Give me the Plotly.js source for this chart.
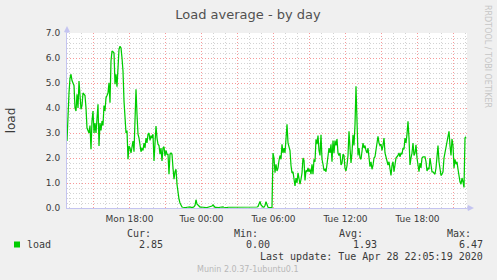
<!DOCTYPE html>
<html>
<head>
<meta charset="utf-8">
<script src="https://cdn.plot.ly/plotly-3.0.1.min.js"></script>
<style>
html,body{margin:0;padding:0;background:#f0f0f0;}
#chart{width:497px;height:280px;}
</style>
</head>
<body>
<div id="chart"></div>
<script>
// ---- data ----
const titleText = 'Load average - by day';
const yAxisTitle = 'load';
const seriesName = 'load';
const startTime = '2020-04-27 12:47:30';   // first 5-minute sample
const stepMinutes = 5;
const rangeStart = '2020-04-27 12:47:30';
const rangeEnd = '2020-04-28 22:07:30';

const loadValues = [
  2.68, 3.9, 4.6, 5.2, 5.35, 5.1, 5.0, 4.9, 4.0, 3.88,
  4.55, 4.0, 5.08, 4.5, 3.95, 4.1, 4.6, 4.55, 4.5, 4.0,
  3.2, 3.1, 3.0, 3.3, 2.35, 3.48, 3.88, 3.0, 3.4, 3.0,
  3.6, 4.15, 2.48, 3.4, 3.1, 3.48, 3.3, 4.1, 3.88, 4.41,
  4.5, 4.6, 5.01, 4.21, 5.88, 6.28, 6.25, 6.2, 4.95, 5.35,
  4.85, 5.88, 6.35, 6.47, 6.4, 6.0, 5.48, 4.28, 3.35, 3.0,
  3.1, 1.95, 2.48, 2.4, 2.2, 2.4, 2.68, 2.25, 3.75, 4.75,
  3.75, 2.95, 2.8, 2.55, 2.25, 2.4, 2.3, 2.6, 2.4, 2.8,
  2.6, 2.95, 3.0, 2.7, 2.9, 2.8, 2.95, 1.88, 2.8, 3.28,
  2.8, 2.55, 2.5, 2.15, 2.4, 1.88, 2.4, 2.45, 2.08, 2.3,
  2.15, 2.15, 1.35, 2.15, 2.2, 2.15, 1.6, 1.15, 1.45, 1.55,
  0.95, 0.6, 0.35, 0.2, 0.08, 0.04, 0.03, 0.02, 0.02, 0.02,
  0.03, 0.04, 0.03, 0.04, 0.03, 0.02, 0.03, 0.05, 0.1, 0.33,
  0.15, 0.12, 0.05, 0.04, 0.04, 0.03, 0.03, 0.03, 0.02, 0.02,
  0.02, 0.03, 0.04, 0.05, 0.06, 0.08, 0.12, 0.05, 0.03, 0.03,
  0.02, 0.02, 0.02, 0.03, 0.04, 0.06, 0.04, 0.03, 0.02, 0.02,
  0.02, 0.03, 0.03, 0.03, 0.02, 0.02, 0.02, 0.02, 0.03, 0.03,
  0.03, 0.03, 0.02, 0.02, 0.02, 0.02, 0.03, 0.03, 0.03, 0.03,
  0.02, 0.02, 0.02, 0.02, 0.03, 0.03, 0.03, 0.03, 0.03, 0.04,
  0.04, 0.06, 0.15, 0.26, 0.12, 0.05, 0.04, 0.04, 0.1, 0.25,
  0.08, 0.03, 0.02, 0.02, 0.02, 0.02, 2.2, 2.0, 1.41, 1.75,
  1.48, 1.6, 1.9, 2.1, 1.95, 2.55, 2.2, 2.4, 2.2, 2.8,
  3.35, 2.6, 2.45, 2.3, 1.7, 1.4, 1.45, 1.08, 0.88, 1.2,
  1.0, 1.41, 1.1, 0.95, 1.15, 1.4, 2.0, 1.9, 1.1, 1.5,
  1.45, 1.6, 1.45, 1.55, 1.35, 1.75, 1.35, 1.95, 1.85, 2.75,
  2.55, 2.9, 2.3, 2.1, 2.93, 1.95, 1.75, 1.5, 1.55, 1.45,
  1.75, 2.1, 2.4, 2.2, 2.55, 1.85, 2.7, 2.2, 2.7, 2.5,
  2.76, 2.2, 2.1, 2.2, 1.72, 1.8, 2.15, 2.1, 1.6, 1.48,
  1.7, 2.1, 3.07, 2.4, 1.8, 2.2, 2.93, 2.5, 3.33, 4.87,
  3.33, 2.1, 2.4, 2.0, 1.95, 2.3, 2.6, 2.4, 2.5, 2.3,
  2.2, 2.4, 1.8, 1.65, 1.85, 1.55, 1.7, 2.0, 2.05, 2.3,
  2.45, 2.87, 2.6, 2.5, 2.55, 2.3, 2.5, 2.8, 2.2, 2.0,
  1.95, 1.72, 1.85, 1.45, 1.3, 1.7, 1.85, 1.45, 1.7, 2.0,
  2.05, 2.1, 2.2, 2.05, 2.2, 2.15, 2.4, 2.35, 2.8, 2.6,
  2.95, 3.47, 2.8, 1.72, 2.0, 2.2, 2.6, 2.1, 2.2, 2.53,
  2.0, 1.65, 1.45, 1.8, 1.6, 2.0, 2.05, 2.05, 2.05, 1.85,
  1.48, 1.6, 1.55, 2.0, 1.7, 1.45, 1.45, 1.4, 1.35, 1.6,
  2.2, 2.5, 1.85, 1.45, 1.3, 1.35, 1.45, 2.0, 2.2, 2.5,
  2.7, 2.9, 3.07, 2.5, 2.1, 2.76, 2.5, 1.6, 1.95, 1.75,
  1.85, 1.55, 1.2, 1.05, 0.95, 1.2, 1.05, 0.82, 2.8, 2.85
];

const xTickTimes = [
  '2020-04-27 15:00', '2020-04-27 18:00', '2020-04-27 21:00',
  '2020-04-28 00:00', '2020-04-28 03:00', '2020-04-28 06:00',
  '2020-04-28 09:00', '2020-04-28 12:00', '2020-04-28 15:00',
  '2020-04-28 18:00', '2020-04-28 21:00'
];
const xTickLabels = ['', 'Mon 18:00', '', 'Tue 00:00', '', 'Tue 06:00', '', 'Tue 12:00', '', 'Tue 18:00', ''];
const yTickValues = [0, 1, 2, 3, 4, 5, 6, 7];

const statHeaders = ['Cur:', 'Min:', 'Avg:', 'Max:'];
const statValues = ['2.85', '0.00', '1.93', '6.47'];
const lastUpdateText = 'Last update: Tue Apr 28 22:05:19 2020';
const versionText = 'Munin 2.0.37-1ubuntu0.1';
const sideText = 'RRDTOOL / TOBI OETIKER';

// ---- build times ----
function pad(n){ return (n < 10 ? '0' : '') + n; }
function fmt(ms){
  const d = new Date(ms);
  return d.getUTCFullYear() + '-' + pad(d.getUTCMonth()+1) + '-' + pad(d.getUTCDate()) + ' ' +
         pad(d.getUTCHours()) + ':' + pad(d.getUTCMinutes()) + ':' + pad(d.getUTCSeconds());
}
const startMs = Date.parse(startTime.replace(' ', 'T') + 'Z');
const times = loadValues.map((v, i) => fmt(startMs + i * stepMinutes * 60000));

// minor grid positions: every hour not on a 3-hour major line; every 0.2 not on an integer
const minorX = [];
const firstHourMs = Date.parse('2020-04-27T13:00:00Z');
for (let h = 0; h < 34; h++) {
  const ms = firstHourMs + h * 3600000;
  if (new Date(ms).getUTCHours() % 3 !== 0) minorX.push(fmt(ms));
}
const minorY = [];
for (let k = 1; k < 35; k++) { if (k % 5 !== 0) minorY.push(k / 5); }

// ---- layout helpers (page pixels -> paper coords) ----
const PL = 67, PT = 33, PW = 400, PH = 175;
const px = x => (x - PL) / PW;
const py = y => (PT + PH - y) / PH;

const mono = 'DejaVu Sans Mono, monospace';
const sans = 'DejaVu Sans, sans-serif';
const textColor = '#3a3a3a';
const axisColor = '#c4c4f0';
const majorGrid = 'rgba(240,70,70,0.55)';
const minorGrid = 'rgba(150,150,150,0.42)';

const annotations = [];
function addText(text, x, y, opts){
  annotations.push(Object.assign({
    text: text, xref: 'paper', yref: 'paper', x: px(x), y: py(y),
    showarrow: false, borderpad: 0, borderwidth: 0,
    xanchor: 'left', yanchor: 'middle',
    font: {family: mono, size: 10, color: textColor}
  }, opts || {}));
}

addText(sideText, 488, 56, {xanchor: 'center', textangle: 90, font: {family: sans, size: 8, color: '#c6c6c6'}});
addText(seriesName, 26.5, 244.5);
const headerRight = [151, 257.5, 363, 470.5];
const valueRight = [163, 269.5, 376.5, 483];
statHeaders.forEach((h, i) => addText(h, headerRight[i], 233, {xanchor: 'right'}));
statValues.forEach((v, i) => addText(v, valueRight[i], 244.5, {xanchor: 'right'}));
addText(lastUpdateText, 483, 256.5, {xanchor: 'right'});
addText(versionText, 248, 269, {xanchor: 'center', font: {family: sans, size: 8, color: '#b8b8b8'}});

const shapes = [
  {type: 'rect', xref: 'paper', yref: 'paper', x0: px(14), x1: px(20), y0: py(241.5), y1: py(247.5),
   fillcolor: '#00cc00', line: {width: 0}},
  {type: 'path', xref: 'paper', yref: 'paper', fillcolor: axisColor, line: {width: 0},
   path: 'M ' + px(467) + ' ' + py(208) + ' L ' + px(468) + ' ' + py(205) + ' L ' + px(474) + ' ' + py(208) +
         ' L ' + px(468) + ' ' + py(211) + ' Z'},
  {type: 'path', xref: 'paper', yref: 'paper', fillcolor: axisColor, line: {width: 0},
   path: 'M ' + px(67) + ' ' + py(33) + ' L ' + px(64) + ' ' + py(32) + ' L ' + px(67) + ' ' + py(26) +
         ' L ' + px(70) + ' ' + py(32) + ' Z'}
];

const trace = {
  type: 'scatter', mode: 'lines', name: seriesName,
  x: times, y: loadValues,
  line: {color: '#00cc00', width: 1.25},
  hoverinfo: 'skip', showlegend: false
};

const layout = {
  width: 497, height: 280,
  margin: {l: PL, r: 497 - PL - PW, t: PT, b: 280 - PT - PH, pad: 0},
  paper_bgcolor: '#f0f0f0', plot_bgcolor: '#ffffff',
  font: {family: sans, size: 9, color: textColor},
  showlegend: false,
  title: {text: titleText, font: {family: sans, size: 13, color: '#505050'},
          x: 248 / 497, xref: 'container', xanchor: 'center',
          y: 1 - 14 / 280, yref: 'container', yanchor: 'middle'},
  xaxis: {
    type: 'date', range: [rangeStart, rangeEnd],
    tickmode: 'array', tickvals: xTickTimes, ticktext: xTickLabels,
    ticks: '', showline: true, linecolor: axisColor, linewidth: 1,
    showgrid: true, gridcolor: majorGrid, griddash: '1px,2px', gridwidth: 1,
    zeroline: false, tickfont: {family: sans, size: 9, color: textColor},
    ticklabelstandoff: 2,
    minor: {tickmode: 'array', tickvals: minorX,
            showgrid: true, gridcolor: minorGrid, griddash: '1px,2px', gridwidth: 1, ticks: ''},
    fixedrange: true
  },
  yaxis: {
    range: [0, 7], tickmode: 'array', tickvals: yTickValues, tickformat: '.1f',
    ticks: '', showline: true, linecolor: axisColor, linewidth: 1,
    showgrid: true, gridcolor: majorGrid, griddash: '1px,2px', gridwidth: 1,
    zeroline: false, tickfont: {family: sans, size: 9, color: textColor},
    ticklabelstandoff: 4,
    minor: {tickmode: 'array', tickvals: minorY,
            showgrid: true, gridcolor: minorGrid, griddash: '1px,2px', gridwidth: 1, ticks: ''},
    title: {text: yAxisTitle, font: {family: sans, size: 12, color: textColor}, standoff: 27},
    fixedrange: true
  },
  annotations: annotations,
  shapes: shapes
};

Plotly.newPlot('chart', [trace], layout, {displayModeBar: false, staticPlot: true});
</script>
</body>
</html>
